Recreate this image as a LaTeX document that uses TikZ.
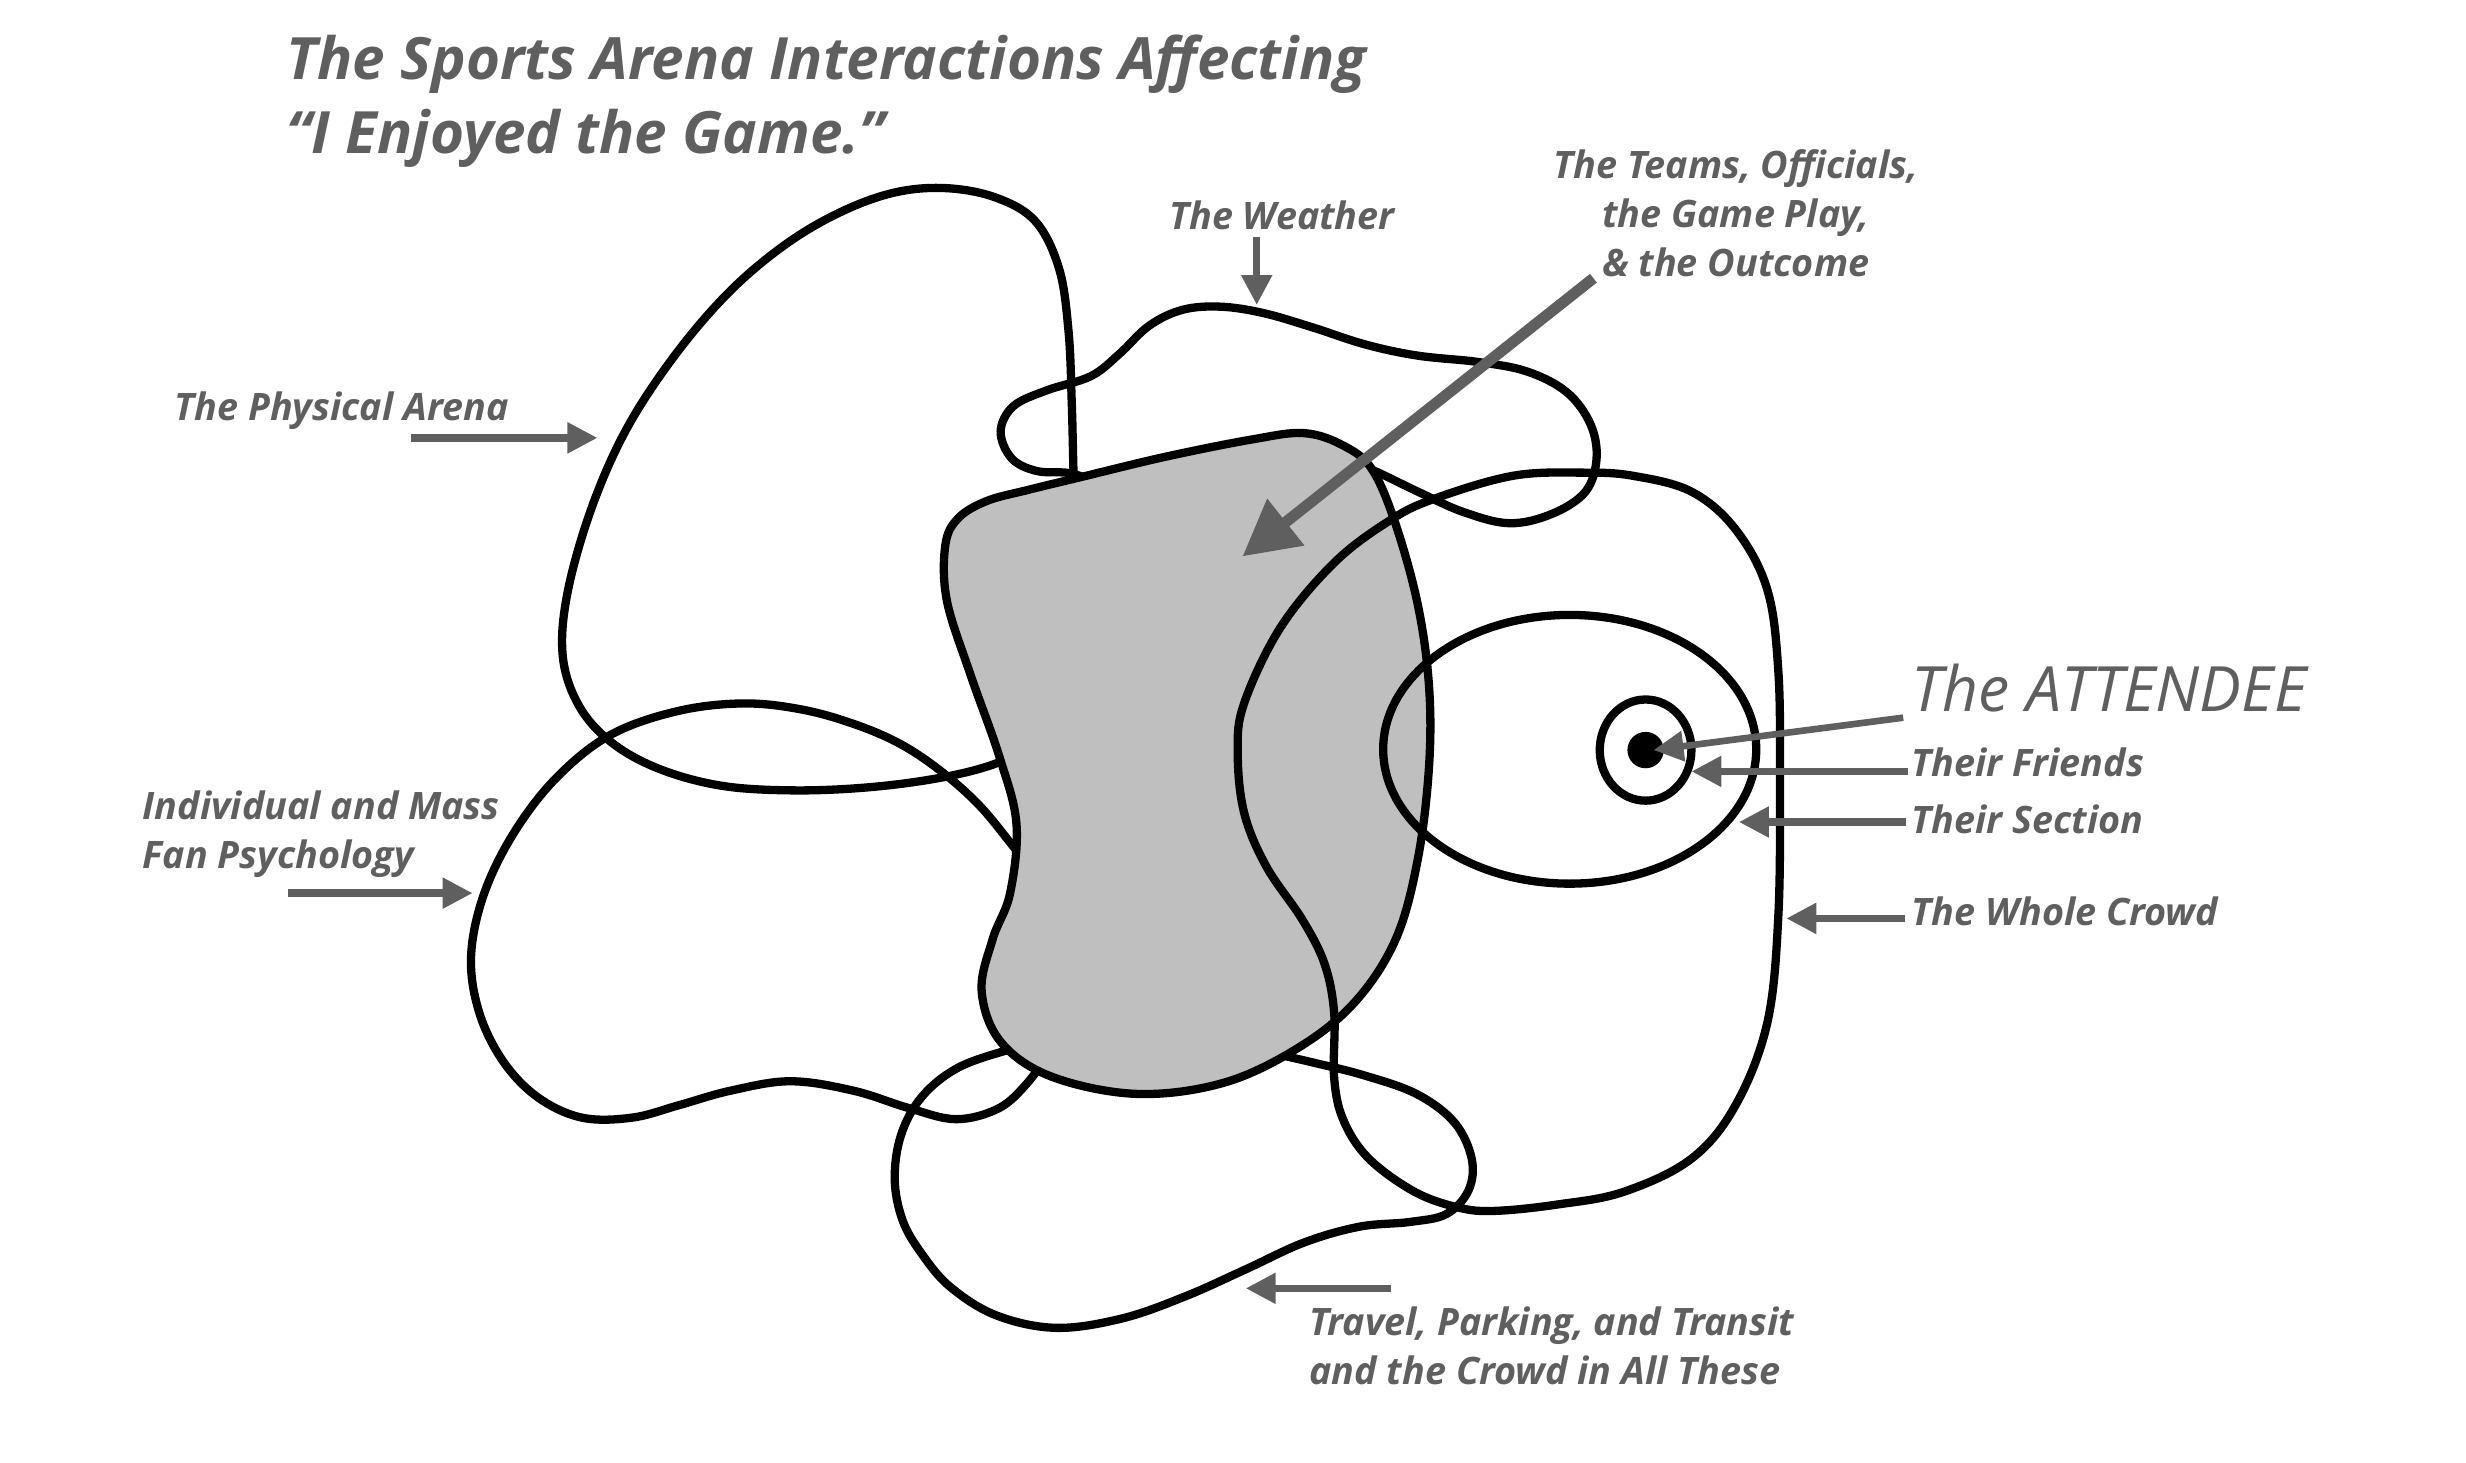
\documentclass[tikz,border=0pt]{standalone}
\usepackage{fontspec}
\setmainfont{Open Sans}
\usetikzlibrary{arrows.meta}
\definecolor{inkgrey}{HTML}{5F5F5F}
\definecolor{fieldgrey}{HTML}{BFBFBF}

\begin{document}
\begin{tikzpicture}[x=0.2mm,y=-0.2mm,
    blob/.style={draw=black,line width=1.05mm,line join=round},
    lbl/.style={text=inkgrey,inner sep=0pt,font=\fontsize{13.6}{17.6}\selectfont\bfseries\itshape},
    pointer/.style={draw=inkgrey,line width=0.94mm,-{Triangle[length=3.8mm,width=3.7mm]}},
    bigpointer/.style={draw=inkgrey,line width=1.4mm,-{Triangle[length=7mm,width=7.2mm]}}]
  \useasboundingbox (0,0) rectangle (1560,925);

  % outer fields, partly hidden under the game
  \draw[blob] plot[smooth,tension=0.6] coordinates {(680,330) (679,295) (678,255) (676,210) (670,170) (655,140) (630,125) (598,119) (565,122) (530,135) (495,156) (460,186) (426,226) (396,272) (374,322) (359,375) (356,415) (366,446) (386,469) (416,486) (456,497) (502,500) (550,498) (595,492) (630,483) (655,470)};
  \draw[blob] plot[smooth,tension=0.6] coordinates {(705,312) (680,300) (656,298) (640,290) (633,273) (641,257) (662,247) (690,238) (708,224) (727,206) (748,196) (772,194) (799,198) (830,207) (864,218) (897,225) (935,229) (966,235) (991,248) (1006,268) (1010,290) (1003,311) (982,325) (955,331) (926,324) (899,312) (872,299) (855,292)};
  \draw[blob] plot[smooth,tension=0.6] coordinates {(652,550) (639,533) (620,510) (598,490) (572,472) (543,459) (508,449) (470,445) (428,450) (386,465) (352,492) (325,527) (306,566) (298,605) (303,640) (318,671) (340,694) (368,707) (400,707) (430,699) (462,690) (500,684) (540,690) (575,701) (605,708) (632,701) (650,685) (662,668)};
  \draw[blob] plot[smooth,tension=0.6] coordinates {(665,658) (635,665) (605,676) (583,694) (570,718) (566,746) (571,772) (583,793) (601,814) (630,832) (668,840) (710,834) (750,820) (788,803) (825,786) (860,776) (892,773) (915,768) (929,753) (931,733) (920,710) (896,692) (862,680) (830,672) (805,666) (790,660)};

  % the game
  \draw[blob,fill=fieldgrey] plot[smooth cycle,tension=0.6] coordinates {(650,310) (683,302) (737,289) (792,278) (825,274) (850,282) (868,297) (883,332) (897,383) (904,434) (904,485) (897,543) (883,594) (857,634) (821,663) (774,685) (719,692) (665,681) (633,659) (621,627) (628,594) (639,565) (643,521) (632,478) (614,427) (599,380) (598,345) (606,328) (624,317)};

  % crowd, section, friends, attendee
  \draw[blob] plot[smooth cycle,tension=0.6] coordinates {(1002,299) (957,301) (906,316) (878,330) (844,356) (810,397) (787,445) (783,476) (787,514) (801,548) (824,582) (838,610) (844,641) (844,682) (850,709) (866,733) (895,754) (923,764) (946,766) (985,762) (1027,754) (1070,733) (1098,699) (1118,647) (1125,579) (1126,493) (1125,425) (1118,373) (1098,335) (1070,311) (1033,301)};
  \draw[blob] (993,474) ellipse [x radius=118,y radius=85];
  \draw[blob] (1041,474.5) ellipse [x radius=29,y radius=32];
  \fill (1041,474.5) circle [radius=11.5];

  % labels
  \node[lbl,anchor=north west,align=left,font=\fontsize{21}{26.4}\selectfont\bfseries\itshape] (title) at (181,22) {The Sports Arena Interactions Affecting\\“I Enjoyed the Game.”};
  \node[lbl,anchor=base] (weather) at (811,145) {The Weather};
  \node[lbl,anchor=north,align=center] (teams) at (1098,94.2) {The Teams, Officials,\\the Game Play,\\\& the Outcome};
  \node[lbl,anchor=base west] (arena) at (110,266) {The Physical Arena};
  \node[lbl,anchor=north west,align=left] (fans) at (90,499.7) {Individual and Mass\\Fan Psychology};
  \node[lbl,anchor=base west,font=\fontsize{22.5}{26}\selectfont\itshape] (attendee) at (1209,450) {The ATTENDEE};
  \node[lbl,anchor=base west] (friends) at (1209,491.5) {Their Friends};
  \node[lbl,anchor=base west] (section) at (1209,527.3) {Their Section};
  \node[lbl,anchor=base west] (crowd) at (1209,585.2) {The Whole Crowd};
  \node[lbl,anchor=north west,align=left] (travel) at (828,826.2) {Travel, Parking, and Transit\\and the Crowd in All These};

  % pointers
  \coordinate (arenaTail) at (260,277);      \coordinate (arenaTip) at (378,277);
  \coordinate (fansTail) at (182,565);       \coordinate (fansTip) at (299,565);
  \coordinate (weatherTail) at (795,150);    \coordinate (weatherTip) at (795,193);
  \coordinate (teamsTail) at (1008,176);     \coordinate (teamsTip) at (786,352);
  \coordinate (attendeeTail) at (1204,454);  \coordinate (attendeeTip) at (1046,474.5);
  \coordinate (friendsTail) at (1207,488);   \coordinate (friendsTip) at (1070,488);
  \coordinate (sectionTail) at (1206,520);   \coordinate (sectionTip) at (1100,520);
  \coordinate (crowdTail) at (1205,581);     \coordinate (crowdTip) at (1130,581);
  \coordinate (travelTail) at (880,815);     \coordinate (travelTip) at (788,815);
  \draw[pointer] (arenaTail) -- (arenaTip);
  \draw[pointer] (fansTail) -- (fansTip);
  \draw[pointer] (weatherTail) -- (weatherTip);
  \draw[bigpointer] (teamsTail) -- (teamsTip);
  \draw[pointer,line width=0.84mm] (attendeeTail) -- (attendeeTip);
  \draw[pointer] (friendsTail) -- (friendsTip);
  \draw[pointer] (sectionTail) -- (sectionTip);
  \draw[pointer] (crowdTail) -- (crowdTip);
  \draw[pointer] (travelTail) -- (travelTip);
\end{tikzpicture}
\end{document}
